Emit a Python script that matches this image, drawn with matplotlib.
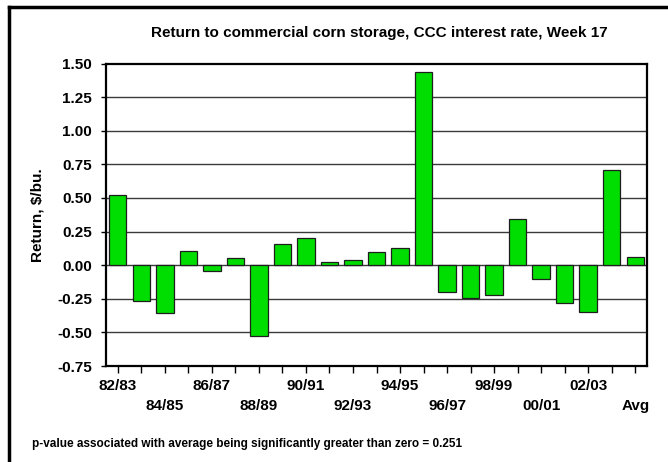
import matplotlib
matplotlib.use("Agg")
import matplotlib.pyplot as plt
from matplotlib.lines import Line2D
import numpy as np

# crop years plus the average column
seasons = ["82/83", "83/84", "84/85", "85/86", "86/87", "87/88", "88/89",
           "89/90", "90/91", "91/92", "92/93", "93/94", "94/95", "95/96",
           "96/97", "97/98", "98/99", "99/00", "00/01", "01/02", "02/03",
           "03/04", "Avg"]
returns = [0.52, -0.27, -0.355, 0.105, -0.04, 0.055, -0.525, 0.155, 0.20,
           0.027, 0.037, 0.097, 0.13, 1.435, -0.20, -0.245, -0.22, 0.34,
           -0.10, -0.28, -0.347, 0.71, 0.062]
yticks = [-0.75, -0.50, -0.25, 0.00, 0.25, 0.50, 0.75, 1.00, 1.25, 1.50]

title = "Return to commercial corn storage, CCC interest rate, Week 17"
ylabel = "Return, $/bu."
footnote = "p-value associated with average being significantly greater than zero = 0.251"

plt.rcParams["font.family"] = ["Liberation Sans", "DejaVu Sans"]
plt.rcParams["font.weight"] = "bold"

fig = plt.figure(figsize=(6.68, 4.62), dpi=100)
fig.patch.set_facecolor("white")

ax = fig.add_axes([106 / 668, 1 - 366 / 462, 541 / 668, 302.5 / 462])

x = np.arange(len(seasons))
ax.set_xlim(-0.5, len(seasons) - 0.5)
ax.set_ylim(yticks[0], yticks[-1])

# horizontal grid, drawn under the bars
for yv in yticks[1:-1]:
    ax.axhline(yv, color="#3a3a3a", linewidth=1.0, zorder=1)

ax.bar(x, returns, width=0.74, color="#00dd00", edgecolor="#1e1e1e",
       linewidth=0.9, zorder=3)

ax.set_yticks(yticks)
ax.set_yticklabels([f"{v:.2f}" for v in yticks], fontsize=11, fontweight="bold")
ax.tick_params(axis="y", direction="out", length=3.6, width=1.0, pad=6.5)

# every other season is labelled, alternating between two rows
ax.set_xticks(x)
ax.set_xticklabels([s if i % 2 == 0 else "" for i, s in enumerate(seasons)],
                   fontsize=11, fontweight="bold")
ax.tick_params(axis="x", direction="out", length=4.7, width=1.0, pad=5)
for i, tick in enumerate(ax.xaxis.get_major_ticks()):
    if i % 4 == 2:
        tick.set_pad(19.4)

for spine in ax.spines.values():
    spine.set_linewidth(1.6)
    spine.set_color("black")

ax.set_ylabel(ylabel, fontsize=11, fontweight="bold")
ax.yaxis.set_label_coords((44 - 106) / 541, 0.5)

fig.text(379 / 668, 1 - 36.7 / 462, title, ha="center", va="baseline",
         fontsize=11, fontweight="bold")
fig.text(32 / 668, 1 - 447 / 462, footnote, ha="left", va="baseline",
         fontsize=8.5, fontweight="bold")

# outer frame (left and top edges)
fig.add_artist(Line2D([9 / 668, 9 / 668], [0, 1 - 7 / 462], transform=fig.transFigure,
                      color="black", linewidth=2.5, solid_capstyle="projecting"))
fig.add_artist(Line2D([9 / 668, 1], [1 - 7 / 462, 1 - 7 / 462], transform=fig.transFigure,
                      color="black", linewidth=2.5, solid_capstyle="projecting"))

fig.savefig("out.png", dpi=100)
